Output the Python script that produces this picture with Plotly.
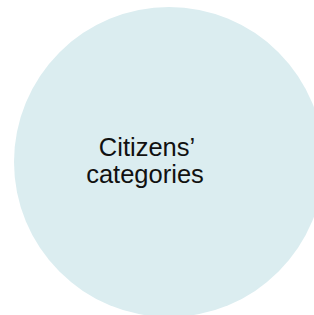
import plotly.graph_objects as go

# Data (page-pixel coordinates)
labels = ["Citizens’", "categories"]
node_center_x = [169]
node_center_y = [162]
node_radius = [155]
label_x = [147, 145]
label_y = [150, 177]

W, H = 314, 315
fig = go.Figure()

for cx, cy, r in zip(node_center_x, node_center_y, node_radius):
    fig.add_shape(type="circle", xref="x", yref="y",
                  x0=cx - r, x1=cx + r, y0=cy - r, y1=cy + r,
                  fillcolor="#DBEDF0", line=dict(width=0), layer="below")

fig.add_trace(go.Scatter(
    x=label_x, y=label_y, mode="text", text=labels,
    textfont=dict(family="Liberation Sans, Arial", size=25.5, color="#111111"),
    textposition="middle center", hoverinfo="skip", showlegend=False,
    cliponaxis=False))

fig.update_layout(
    width=W, height=H, margin=dict(l=0, r=0, t=0, b=0),
    paper_bgcolor="white", plot_bgcolor="white",
    xaxis=dict(range=[0, W], visible=False, fixedrange=True),
    yaxis=dict(range=[H, 0], visible=False, fixedrange=True),
    showlegend=False,
)
fig.write_html(
    "out.html",
    config={"displayModeBar": False},
    post_script="document.body.style.margin='0';document.body.style.overflow='hidden';",
)
